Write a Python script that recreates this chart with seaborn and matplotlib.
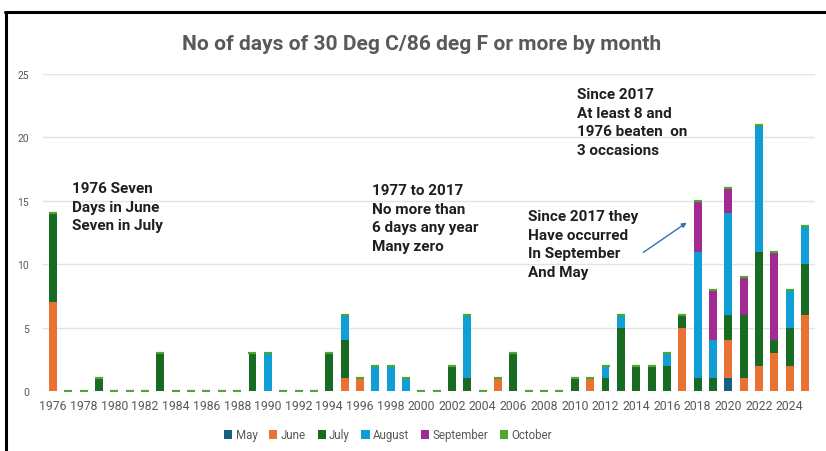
import matplotlib
matplotlib.use("Agg")
import matplotlib.pyplot as plt
from matplotlib.patches import Patch
from matplotlib.lines import Line2D
import numpy as np
import pandas as pd
import seaborn as sns

years = list(range(1976, 2026))
may = [0]*44 + [1, 0, 0, 0, 0, 0]
june = [7, 0, 0, 0, 0, 0, 0, 0, 0, 0,   # 1976-1985
        0, 0, 0, 0, 0, 0, 0, 0, 0, 1,   # 1986-1995
        1, 0, 0, 0, 0, 0, 0, 0, 0, 1,   # 1996-2005
        0, 0, 0, 0, 0, 1, 0, 0, 0, 0,   # 2006-2015
        0, 5, 0, 0, 3, 1, 2, 3, 2, 6]   # 2016-2025
july = [7, 0, 0, 1, 0, 0, 0, 3, 0, 0,
        0, 0, 0, 3, 0, 0, 0, 0, 3, 3,
        0, 0, 0, 0, 0, 0, 2, 1, 0, 0,
        3, 0, 0, 0, 1, 0, 1, 5, 2, 2,
        2, 1, 1, 1, 2, 5, 9, 1, 3, 4]
august = [0, 0, 0, 0, 0, 0, 0, 0, 0, 0,
          0, 0, 0, 0, 3, 0, 0, 0, 0, 2,
          0, 2, 2, 1, 0, 0, 0, 5, 0, 0,
          0, 0, 0, 0, 0, 0, 1, 1, 0, 0,
          1, 0, 10, 3, 8, 0, 10, 0, 3, 3]
september = [0]*42 + [4, 4, 2, 3, 0, 7, 0, 0]
october = [0]*50

month_names = ["May", "June", "July", "August", "September", "October"]
month_colors = ["#156082", "#E97132", "#196B24", "#0F9ED5", "#A02B93", "#4EA72E"]
series = [may, june, july, august, september, october]

title = "No of days of 30 Deg C/86 deg F or more by month"
note_1976 = "1976 Seven\nDays in June\nSeven in July"
note_1977 = "1977 to 2017\nNo more than\n6 days any year\nMany zero"
note_sept = "Since 2017 they\nHave occurred\nIn September\nAnd May"
note_2017 = "Since 2017\nAt least 8 and\n1976 beaten  on\n3 occasions"

sns.set_theme(style="white")
plt.rcParams['font.family'] = ['Roboto', 'DejaVu Sans']

W, H = 826, 452
fig = plt.figure(figsize=(W/100, H/100), dpi=100)
fig.patch.set_facecolor("white")
ax = fig.add_axes([43/W, 1-392/H, (815-43)/W, (392-75)/H])

df = pd.DataFrame({"year": years})
cum = np.zeros(len(years))
cums = []
for s in series:
    cum = cum + np.array(s)
    cums.append(cum.copy())
for name, c in zip(month_names, cums):
    df[name] = c

# stacked bars: draw cumulative totals from top month down
for name, color in reversed(list(zip(month_names, month_colors))):
    sns.barplot(data=df, x="year", y=name, color=color, native_scale=True,
                width=0.52, errorbar=None, linewidth=0, saturation=1, ax=ax)

# light-green caps on top of each stack (October top)
df["total"] = cums[-1]
sns.scatterplot(data=df, x="year", y="total", marker="_", color="#4EA72E",
                s=26, linewidth=1.6, ax=ax, zorder=5)

ax.set_xlim(1975.35, 2025.65)
ax.set_ylim(0, 25)
ax.set_yticks([0, 5, 10, 15, 20, 25])
ax.set_xticks(list(range(1976, 2025, 2)))
ax.set_xticklabels([str(y) for y in range(1976, 2025, 2)])
ax.tick_params(axis="x", labelsize=8.8, colors="#595959", length=0, pad=6)
ax.tick_params(axis="y", labelsize=7.5, colors="#595959", length=0, pad=10)
ax.grid(axis="y", color="#E3E3E3", linewidth=1)
ax.set_axisbelow(True)
for sp in ax.spines.values():
    sp.set_visible(False)
ax.set_xlabel("")
ax.set_ylabel("")

fig.text(422/W, 1-50/H, title, ha="center", va="baseline", fontsize=15.1,
         color="#595959", fontweight="bold")

kw = dict(ha="left", va="top", fontsize=11, fontweight="bold", color="#1F1F1F",
          linespacing=1.42)
fig.text(72/W, 1-182/H, note_1976, **kw)
fig.text(372/W, 1-184/H, note_1977, **kw)
fig.text(528/W, 1-210/H, note_sept, **kw)
fig.text(577/W, 1-88/H, note_2017, **kw)

fig.add_artist(matplotlib.patches.FancyArrowPatch(
    posA=(641/W, 1-255/H), posB=(689/W, 1-222/H), transform=fig.transFigure,
    arrowstyle="-|>", mutation_scale=7, color="#2E75B6", linewidth=1))

handles = [Patch(facecolor=c, edgecolor="none") for c in month_colors]
leg = fig.legend(handles, month_names, loc="center", ncol=6,
                 bbox_to_anchor=(388/W, 1-436/H), frameon=False, fontsize=8.3,
                 handlelength=0.7, handleheight=0.7, handletextpad=0.3,
                 columnspacing=1.0)
for t in leg.get_texts():
    t.set_color("#595959")

# black frame on top and left
fig.add_artist(Line2D([5/W, 1], [1-13/H, 1-13/H], transform=fig.transFigure,
                      color="black", linewidth=2.2))
fig.add_artist(Line2D([6/W, 6/W], [0, 1-13/H], transform=fig.transFigure,
                      color="black", linewidth=2.2))

fig.savefig("out.png", dpi=100, facecolor="white")
